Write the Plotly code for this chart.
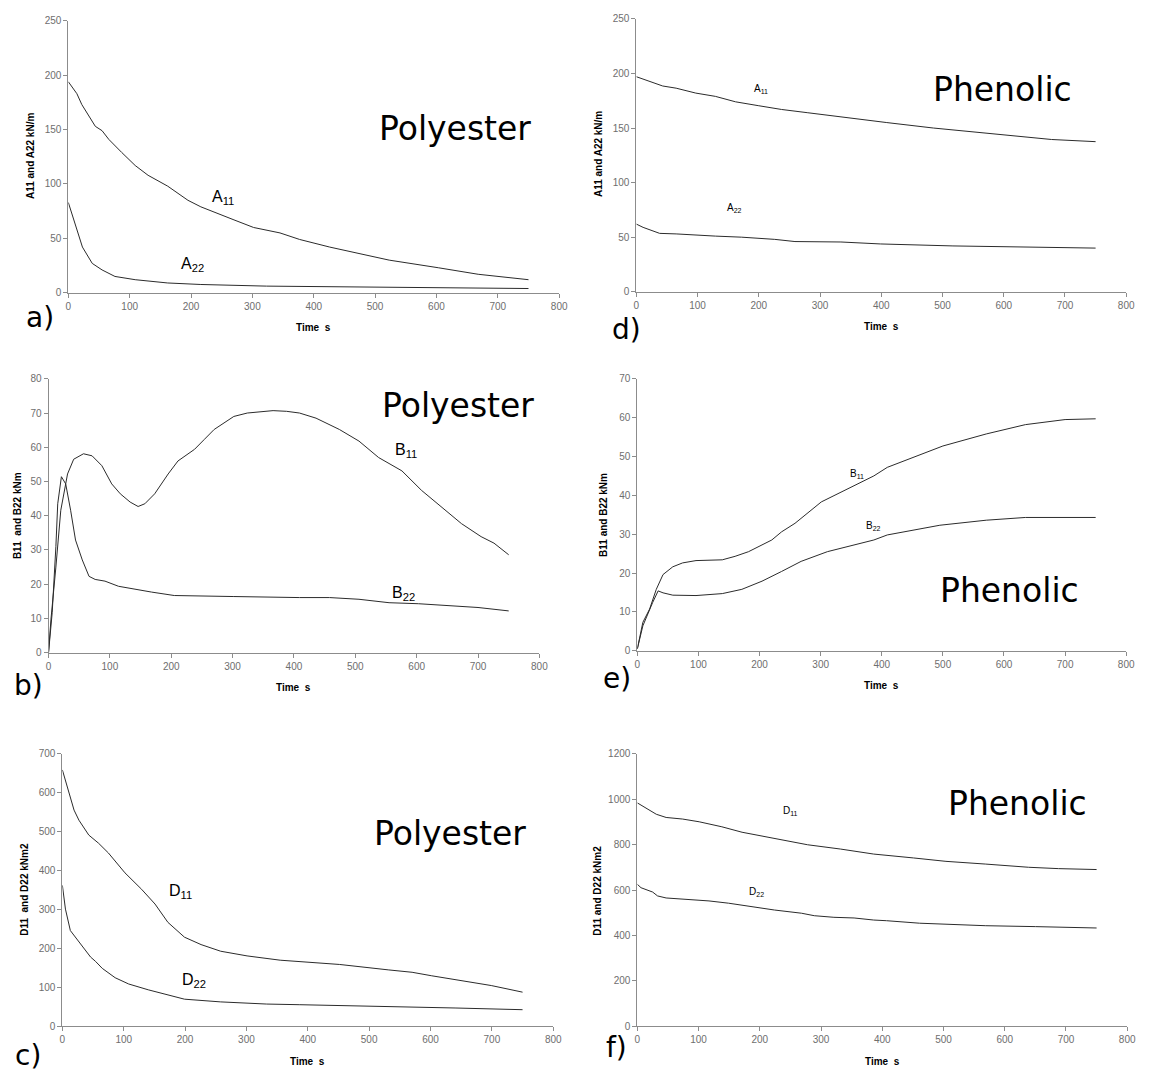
import plotly.graph_objects as go

# ---------------- data ----------------
# a) Polyester A11 / A22 (kN/m)
t_a11_poly = [0, 14, 22, 44, 55, 66, 87, 109, 130, 162, 195, 216, 270, 302, 345, 377, 426, 523, 603, 668, 750]
a11_poly = [194, 183, 173, 153, 149, 141, 129, 117, 108, 98, 85, 79, 67, 60, 55, 49, 42, 30, 23, 17, 12]
t_a22_poly = [0, 9, 23, 39, 55, 76, 109, 162, 216, 323, 436, 560, 750]
a22_poly = [83, 67, 42, 27, 21, 15, 12, 9, 7.6, 6.1, 5.5, 4.5, 3.9]

# d) Phenolic A11 / A22 (kN/m)
t_a11_phen = [0, 27, 43, 65, 97, 129, 162, 199, 237, 280, 334, 388, 409, 485, 571, 678, 750]
a11_phen = [197, 192, 188.5, 186.5, 182, 179, 174, 170.5, 167, 164, 160, 156, 155, 150, 145.5, 139.5, 137.5]
t_a22_phen = [0, 11, 38, 65, 129, 172, 226, 259, 334, 399, 517, 625, 750]
a22_phen = [62, 59, 53.5, 53, 51, 50, 48, 46, 45.6, 43.8, 42, 40.8, 40]

# b) Polyester B11 / B22 (kNm)
t_b11_poly = [0, 4, 12, 20, 31, 41, 57, 71, 87, 103, 117, 133, 146, 157, 173, 195, 211, 238, 254, 270,
              302, 324, 366, 388, 409, 436, 474, 506, 538, 576, 608, 646, 673, 705, 726, 750]
b11_poly = [0, 9.8, 25, 41.6, 52.2, 56.5, 58.1, 57.5, 54.6, 49.3, 46.4, 44, 42.7, 43.5, 46.4, 52.2, 56, 59.4, 62.3, 65.2,
            69, 70, 70.7, 70.5, 70, 68.5, 65.2, 61.8, 57, 53.1, 47.4, 41.6, 37.7, 33.9, 32, 28.6]
t_b22_poly = [0, 6, 12, 15, 21, 28, 36, 44, 55, 66, 76, 92, 114, 141, 168, 205, 248, 302, 409, 458, 506, 555, 603, 700, 750]
b22_poly = [0, 11.7, 31, 43.5, 51.4, 49.3, 41.6, 32.9, 27.1, 22.3, 21.4, 20.9, 19.4, 18.5, 17.7, 16.7, 16.5, 16.4, 16.1,
            16.1, 15.6, 14.6, 14.3, 13.2, 12.2]

# e) Phenolic B11 / B22 (kNm)
t_b11_phen = [0, 9, 20, 31, 42, 58, 74, 96, 139, 160, 182, 204, 220, 236, 258, 301, 333, 355, 387, 409, 500, 571, 635, 700, 750]
b11_phen = [0.5, 7.3, 10.7, 15.8, 19.6, 21.6, 22.6, 23.2, 23.4, 24.3, 25.5, 27.2, 28.5, 30.6, 32.8, 38.3, 40.8, 42.4, 45,
            47.2, 52.7, 55.8, 58.2, 59.5, 59.7]
t_b22_phen = [0, 9, 25, 34, 42, 58, 96, 139, 171, 204, 236, 268, 311, 355, 387, 409, 495, 571, 635, 750]
b22_phen = [0.5, 6.4, 12.4, 15.4, 14.9, 14.3, 14.2, 14.7, 15.8, 17.9, 20.4, 23, 25.5, 27.2, 28.5, 29.8, 32.3, 33.6, 34.3, 34.3]

# c) Polyester D11 / D22 (kNm2)
t_d11_poly = [0, 8, 13, 19, 27, 43, 59, 75, 102, 129, 151, 172, 199, 226, 258, 301, 355, 387, 452, 532, 570, 602, 651, 699, 750]
d11_poly = [658, 614, 588, 555, 529, 491, 470, 445, 394, 352, 314, 267, 229, 210, 193, 181, 170, 166, 159, 145, 139, 130,
            117, 105, 88]
t_d22_poly = [0, 5, 13, 27, 38, 46, 54, 65, 86, 108, 140, 172, 199, 258, 333, 387, 441, 532, 600, 640, 750]
d22_poly = [362, 301, 246, 216, 195, 178, 167, 149, 125, 109, 94, 81, 70, 63, 57.5, 55.8, 54, 51.5, 50.5, 47.4, 43]

# f) Phenolic D11 / D22 (kNm2)
t_d11_phen = [0, 14, 31, 47, 74, 101, 138, 171, 203, 246, 278, 332, 386, 451, 504, 569, 639, 688, 750]
d11_phen = [983, 961, 933, 919, 912, 900, 878, 854, 838, 817, 799, 780, 758, 741, 726, 714, 700, 694, 690]
t_d22_phen = [0, 6, 25, 33, 47, 84, 117, 149, 171, 203, 224, 268, 289, 321, 354, 386, 407, 461, 569, 650, 714, 750]
d22_phen = [625, 610, 591, 574, 565, 559, 552, 542, 533, 523, 512, 498, 487, 480, 477, 468, 465, 454, 443, 439, 434, 433]

x_ticks = [0, 100, 200, 300, 400, 500, 600, 700, 800]

# ---------------- layout helpers ----------------
W, H = 1156, 1074


def px(x):
    return x / W


def py(y):
    return 1 - y / H


LINE = "#2b2b2b"
AXIS = "#8c8c8c"
TICKF = dict(family="Liberation Sans, Arial", size=10, color="#6e6e6e")
TITLEF = dict(family="Liberation Sans, Arial", size=10, color="#000000")
BIGF = "DejaVu Sans"

# panel specs: pixel box (x0,x1,ytop,ybottom), y range, dtick
panels = [
    dict(key="a", box=(66, 562, 15, 290), ymax=250, dt=50, ytitle="A11 and A22 kN/m",
         series=[(t_a11_poly, a11_poly), (t_a22_poly, a22_poly)]),
    dict(key="d", box=(640, 1135, 13, 289), ymax=250, dt=50, ytitle="A11 and A22 kN/m",
         series=[(t_a11_phen, a11_phen), (t_a22_phen, a22_phen)]),
    dict(key="b", box=(46, 542, 377, 654), ymax=80, dt=10, ytitle="B11  and B22 kNm",
         series=[(t_b11_poly, b11_poly), (t_b22_poly, b22_poly)]),
    dict(key="e", box=(641, 1135, 377, 652), ymax=70, dt=10, ytitle="B11 and B22 kNm",
         series=[(t_b11_phen, b11_phen), (t_b22_phen, b22_phen)]),
    dict(key="c", box=(60, 556, 756, 1032), ymax=700, dt=100, ytitle="D11  and D22 kNm2",
         series=[(t_d11_poly, d11_poly), (t_d22_poly, d22_poly)]),
    dict(key="f", box=(641, 1136, 756, 1032), ymax=1200, dt=200, ytitle="D11 and D22 kNm2",
         series=[(t_d11_phen, d11_phen), (t_d22_phen, d22_phen)]),
]

fig = go.Figure()
annotations = []

for i, p in enumerate(panels, start=1):
    sfx = "" if i == 1 else str(i)
    x0, x1, yt, yb = p["box"]
    for tx, vy in p["series"]:
        fig.add_trace(go.Scatter(x=tx, y=vy, mode="lines", line=dict(color=LINE, width=1),
                                 xaxis="x" + sfx, yaxis="y" + sfx, showlegend=False, hoverinfo="skip"))
    fig.layout["xaxis" + sfx] = dict(
        domain=[px(x0), px(x1)], anchor="y" + sfx, range=[0, 800], tickvals=x_ticks,
        showline=True, linecolor=AXIS, linewidth=1, ticks="outside", ticklen=4, tickcolor=AXIS,
        showgrid=False, zeroline=False, tickfont=TICKF, fixedrange=True)
    fig.layout["yaxis" + sfx] = dict(
        domain=[py(yb), py(yt)], anchor="x" + sfx, range=[0, p["ymax"]], dtick=p["dt"], tick0=0,
        showline=True, linecolor=AXIS, linewidth=1, ticks="outside", ticklen=4, tickcolor=AXIS,
        showgrid=False, zeroline=False, tickfont=TICKF, fixedrange=True)
    # axis titles
    annotations.append(dict(text="<b>Time  s</b>", x=px((x0 + x1) / 2), y=py(yb + 35), xref="paper", yref="paper",
                            showarrow=False, font=TITLEF, xanchor="center", yanchor="middle"))

ytitle_pos = {"a": (28, 152), "d": (602, 150), "b": (14, 515), "e": (607, 515), "c": (21, 893), "f": (600, 895)}
for i, p in enumerate(panels, start=1):
    xx, yy = ytitle_pos[p["key"]]
    annotations.append(dict(text="<b>" + p["ytitle"] + "</b>", x=px(xx), y=py(yy), xref="paper", yref="paper",
                            showarrow=False, font=TITLEF, textangle=-90, xanchor="center", yanchor="middle"))

# panel letters
letters = [("a)", 37, 315), ("d)", 630, 327), ("b)", 26, 687), ("e)", 620, 680), ("c)", 25, 1061), ("f)", 620, 1053)]
for txt, xx, yy in letters:
    annotations.append(dict(text=txt, x=px(xx), y=py(yy), xref="paper", yref="paper", showarrow=False,
                            font=dict(family=BIGF, size=28, color="#000"), xanchor="center", yanchor="middle"))

# material names
materials = [("Polyester", 457, 124), ("Polyester", 460, 404), ("Polyester", 452, 837),
             ("Phenolic", 1010, 84), ("Phenolic", 1017, 591), ("Phenolic", 1025, 807)]
for txt, xx, yy in materials:
    annotations.append(dict(text=txt, x=px(xx), y=py(yy), xref="paper", yref="paper", showarrow=False,
                            font=dict(family=BIGF, size=33, color="#000"), xanchor="center", yanchor="middle"))

# curve labels (data coordinates)
curve_labels = [
    ("A<sub>11</sub>", 1, 252, 88, 16), ("A<sub>22</sub>", 1, 203, 26, 16),
    ("A<sub>11</sub>", 2, 204, 186, 10), ("A<sub>22</sub>", 2, 160, 77, 10),
    ("B<sub>11</sub>", 3, 582, 59, 16), ("B<sub>22</sub>", 3, 579, 17.3, 16),
    ("B<sub>11</sub>", 4, 360, 45.6, 10), ("B<sub>22</sub>", 4, 387, 32.1, 10),
    ("D<sub>11</sub>", 5, 193, 347, 16), ("D<sub>22</sub>", 5, 214, 119, 16),
    ("D<sub>11</sub>", 6, 250, 948, 10), ("D<sub>22</sub>", 6, 194, 591, 10),
]
for txt, ax, xv, yv, fs in curve_labels:
    sfx = "" if ax == 1 else str(ax)
    annotations.append(dict(text=txt, x=xv, y=yv, xref="x" + sfx, yref="y" + sfx, showarrow=False,
                            font=dict(family="Liberation Sans, Arial", size=fs, color="#000"),
                            xanchor="center", yanchor="middle"))

fig.update_layout(width=W, height=H, margin=dict(l=0, r=0, t=0, b=0), paper_bgcolor="white",
                  plot_bgcolor="white", annotations=annotations, showlegend=False)

fig.write_html("out.html")
